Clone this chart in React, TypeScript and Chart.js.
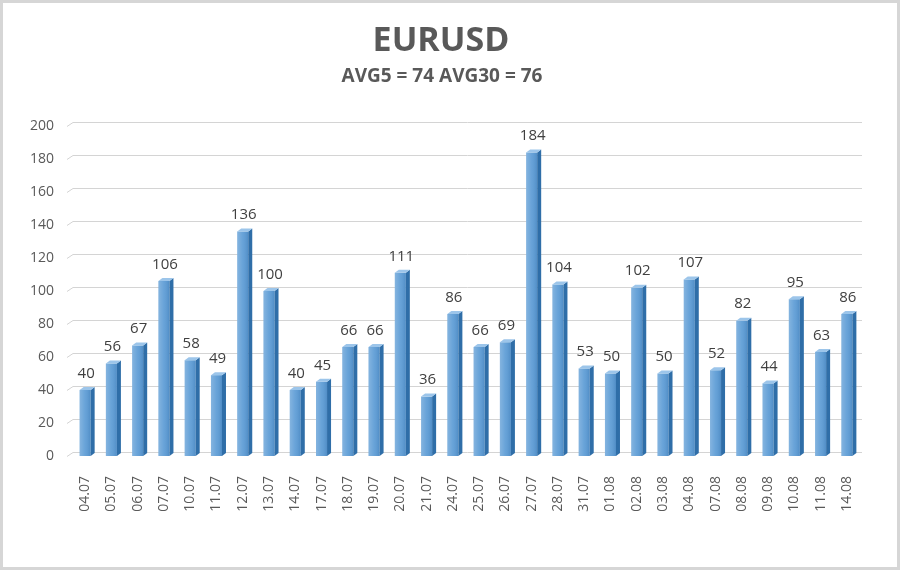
import React, { useEffect, useRef } from "react";
import { Chart, registerables } from "chart.js";

Chart.register(...registerables);

const categories = ["04.07","05.07","06.07","07.07","10.07","11.07","12.07","13.07","14.07","17.07","18.07","19.07","20.07","21.07","24.07","25.07","26.07","27.07","28.07","31.07","01.08","02.08","03.08","04.08","07.08","08.08","09.08","10.08","11.08","14.08"];
const values = [40,56,67,106,58,49,136,100,40,45,66,66,111,36,86,66,69,184,104,53,50,102,50,107,52,82,44,95,63,86];
const yTicks = [0,20,40,60,80,100,120,140,160,180,200];
const titleText = "EURUSD";
const subtitleText = "AVG5 = 74 AVG30 = 76";

const FONT = "'Open Sans', 'DejaVu Sans', sans-serif";
const TEXT = "#595959";
const DEPTH = 4;
const RISE = 3;

const framePlugin = {
  id: "frame",
  beforeDraw(chart: any) {
    const { ctx, width, height } = chart;
    ctx.save();
    ctx.fillStyle = "#ffffff";
    ctx.fillRect(0, 0, width, height);
    ctx.strokeStyle = "#d6d6d6";
    ctx.lineWidth = 3;
    ctx.strokeRect(1.5, 1.5, width - 3, height - 3);
    ctx.fillStyle = TEXT;
    ctx.textAlign = "center";
    ctx.textBaseline = "middle";
    ctx.font = `bold 34px ${FONT}`;
    ctx.fillText(titleText, width / 2 - 9, 41);
    ctx.font = `bold 19px ${FONT}`;
    ctx.fillText(subtitleText, width / 2 - 8, 77);
    ctx.restore();
  },
  beforeDatasetsDraw(chart: any) {
    const { ctx, chartArea } = chart;
    const y = chart.scales.y;
    ctx.save();
    ctx.strokeStyle = "#d4d4d4";
    ctx.lineWidth = 1;
    yTicks.forEach((v) => {
      const py = Math.round(y.getPixelForValue(v)) - RISE - 0.5;
      ctx.beginPath();
      ctx.moveTo(chartArea.left - 5, py + RISE + 1);
      ctx.lineTo(chartArea.left + 1, py);
      ctx.lineTo(chartArea.right + 2, py);
      ctx.stroke();
    });
    ctx.restore();
  },
  afterDatasetsDraw(chart: any) {
    const { ctx } = chart;
    const meta = chart.getDatasetMeta(0);
    ctx.save();
    meta.data.forEach((bar: any, i: number) => {
      const w = bar.width;
      const l = bar.x - w / 2;
      const r = bar.x + w / 2;
      const top = bar.y;
      const base = bar.base;
      const g = ctx.createLinearGradient(l, 0, r, 0);
      g.addColorStop(0, "rgba(255,255,255,0.25)");
      g.addColorStop(0.5, "rgba(255,255,255,0.08)");
      g.addColorStop(1, "rgba(0,40,90,0.12)");
      ctx.fillStyle = g;
      ctx.fillRect(l, top, w, base - top);
      ctx.fillStyle = "#2f6ea8";
      ctx.beginPath();
      ctx.moveTo(r, top);
      ctx.lineTo(r + DEPTH, top - RISE);
      ctx.lineTo(r + DEPTH, base - RISE);
      ctx.lineTo(r, base);
      ctx.closePath();
      ctx.fill();
      ctx.fillStyle = "#9cc5ea";
      ctx.beginPath();
      ctx.moveTo(l, top);
      ctx.lineTo(l + DEPTH, top - RISE);
      ctx.lineTo(r + DEPTH, top - RISE);
      ctx.lineTo(r, top);
      ctx.closePath();
      ctx.fill();
      ctx.fillStyle = "#404040";
      ctx.font = `15px ${FONT}`;
      ctx.textAlign = "center";
      ctx.textBaseline = "bottom";
      ctx.fillText(String(values[i]), bar.x + 1, top - 9);
    });
    ctx.restore();
  },
};

export default function App() {
  const ref = useRef<HTMLCanvasElement>(null);
  useEffect(() => {
    document.body.style.margin = "0";
    const chart = new Chart(ref.current!, {
      type: "bar",
      data: {
        labels: categories,
        datasets: [
          {
            data: values,
            backgroundColor: "#5b9bd5",
            borderWidth: 0,
            categoryPercentage: 1,
            barPercentage: 0.42,
          },
        ],
      },
      options: {
        animation: false,
        responsive: false,
        devicePixelRatio: 1,
        layout: { padding: { top: 126, right: 40, bottom: 0, left: 0 } },
        plugins: {
          legend: { display: false },
          tooltip: { enabled: false },
          title: { display: false },
        },
        scales: {
          x: {
            grid: { display: false },
            border: { display: false },
            ticks: {
              minRotation: 90,
              maxRotation: 90,
              autoSkip: false,
              padding: 12,
              color: TEXT,
              font: { family: FONT, size: 14 },
            },
            afterFit(scale: any) {
              scale.height = 114;
            },
          },
          y: {
            min: 0,
            max: 200,
            grid: { display: false },
            border: { display: false },
            ticks: {
              stepSize: 20,
              padding: 10,
              color: TEXT,
              font: { family: FONT, size: 14 },
            },
            afterFit(scale: any) {
              scale.width = 72;
            },
          },
        },
      },
      plugins: [framePlugin],
    });
    return () => chart.destroy();
  }, []);
  return (
    <div style={{ width: 900, height: 570 }}>
      <canvas ref={ref} width={900} height={570} style={{ display: "block" }} />
    </div>
  );
}
